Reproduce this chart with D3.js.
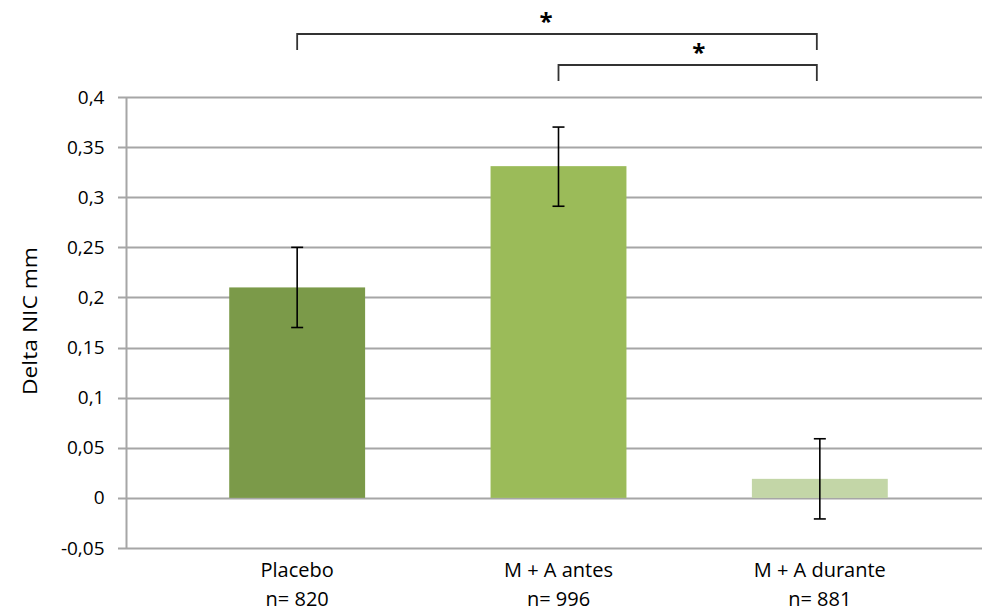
<!DOCTYPE html>
<html><head><meta charset="utf-8">
<script src="https://cdn.jsdelivr.net/npm/d3@7"></script>
<style>body{margin:0;background:#fff}svg{display:block}text{font-family:"Open Sans","Noto Sans",sans-serif}</style>
</head><body><svg id="c" width="982" height="613"></svg>
<script>
const categories = ["Placebo", "M + A antes", "M + A durante"];
const nLabels = ["n= 820", "n= 996", "n= 881"];
const values = [0.21, 0.331, 0.019];
const errLow = [0.17, 0.291, -0.021];
const errHigh = [0.25, 0.37, 0.059];
const colors = ["#7b9a49", "#9bbb59", "#c3d6a7"];
const yTicks = [-0.05, 0, 0.05, 0.1, 0.15, 0.2, 0.25, 0.3, 0.35, 0.4];
const brackets = [{from: 0, to: 2, level: 0, starDx: -11}, {from: 1, to: 2, level: 1, starDx: 11}];

const svg = d3.select("#c");
const y = d3.scaleLinear().domain([-0.05, 0.4]).range([548, 97]);
const x = d3.scaleBand().domain(categories).range([166.5, 950.5]).paddingInner(0.48).paddingOuter(0.24);
const axisX = 126.5;
const fmt = d => d === 0 ? "0" : String(+d.toFixed(2)).replace(".", ",");

// gridlines
svg.append("g").selectAll("line").data(yTicks).join("line")
  .attr("x1", 118).attr("x2", 982)
  .attr("y1", d => Math.round(y(d)) + 0.5).attr("y2", d => Math.round(y(d)) + 0.5)
  .attr("stroke", "#a6a6a6").attr("stroke-width", 2);

// y axis
const yAxis = d3.axisLeft(y).tickValues(yTicks).tickFormat(fmt).tickSize(0).tickPadding(22);
const ga = svg.append("g").attr("transform", `translate(${axisX},0)`).call(yAxis);
ga.select(".domain").remove();
ga.selectAll("text").attr("font-size", 19).attr("fill", "#000");
svg.append("line").attr("x1", axisX).attr("x2", axisX).attr("y1", y(0.4)).attr("y2", y(-0.05) + 1)
  .attr("stroke", "#a6a6a6").attr("stroke-width", 2);

// y title
svg.append("text").attr("transform", "translate(37,321) rotate(-90)")
  .attr("text-anchor", "middle").attr("font-size", 20).attr("fill", "#000")
  .attr("textLength", 148).attr("lengthAdjust", "spacingAndGlyphs").text("Delta NIC mm");

// bars
svg.append("g").selectAll("rect").data(categories).join("rect")
  .attr("x", d => x(d)).attr("width", x.bandwidth())
  .attr("y", (d, i) => Math.min(y(values[i]), y(0)))
  .attr("height", (d, i) => Math.abs(y(values[i]) - y(0)))
  .attr("fill", (d, i) => colors[i]);

// error bars
const eg = svg.append("g").attr("stroke", "#000").attr("stroke-width", 1.6);
categories.forEach((c, i) => {
  const cx = x(c) + x.bandwidth() / 2;
  eg.append("line").attr("x1", cx).attr("x2", cx).attr("y1", y(errLow[i])).attr("y2", y(errHigh[i]));
  eg.append("line").attr("x1", cx - 6).attr("x2", cx + 6).attr("y1", y(errLow[i])).attr("y2", y(errLow[i]));
  eg.append("line").attr("x1", cx - 6).attr("x2", cx + 6).attr("y1", y(errHigh[i])).attr("y2", y(errHigh[i]));
});

// category labels
const lg = svg.append("g").attr("font-size", 20).attr("fill", "#000").attr("text-anchor", "middle");
categories.forEach((c, i) => {
  const cx = x(c) + x.bandwidth() / 2;
  lg.append("text").attr("x", cx).attr("y", 577).text(c);
  lg.append("text").attr("x", cx).attr("y", 606).text(nLabels[i]);
});

// significance brackets
const bg = svg.append("g");
brackets.forEach(b => {
  const x1 = x(categories[b.from]) + x.bandwidth() / 2;
  const x2 = x(categories[b.to]) + x.bandwidth() / 2 - 3;
  const top = 34 + b.level * 31, bottom = top + 16;
  bg.append("path").attr("d", `M${x1},${bottom}V${top}H${x2}V${bottom}`)
    .attr("fill", "none").attr("stroke", "#333").attr("stroke-width", 1.8);
  bg.append("text").attr("x", (x1 + x2) / 2 + b.starDx).attr("y", top - 4)
    .attr("text-anchor", "middle").attr("font-size", 24).attr("font-weight", "bold").attr("fill", "#000").text("*");
});
</script></body></html>
